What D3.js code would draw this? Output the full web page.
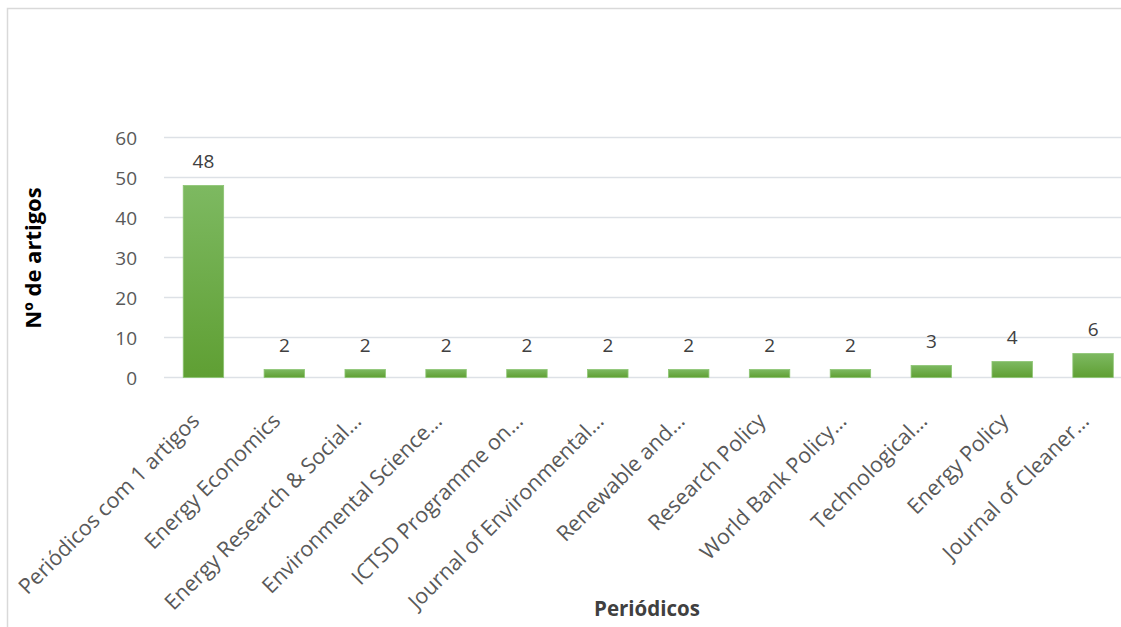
<!DOCTYPE html>
<html><head><meta charset="utf-8">
<script src="https://cdn.jsdelivr.net/npm/d3@7"></script>
<style>
html,body{margin:0;padding:0;background:#fff;}
svg{display:block;}
text{font-family:"Open Sans", Lato, sans-serif;}
</style></head>
<body>
<svg id="chart" width="1121" height="627"></svg>
<script>
const categories = ["Periódicos com 1 artigos","Energy Economics","Energy Research & Social…","Environmental Science…","ICTSD Programme on…","Journal of Environmental…","Renewable and…","Research Policy","World Bank Policy…","Technological…","Energy Policy","Journal of Cleaner…"];
const values = [48,2,2,2,2,2,2,2,2,3,4,6];
const yTicks = [0,10,20,30,40,50,60];
const yTitle = "Nº de artigos";
const xTitle = "Periódicos";

const FONT = "'Open Sans', Lato, sans-serif";
const svg = d3.select("#chart");
// outer frame
svg.append("rect").attr("x",7.5).attr("y",8.5).attr("width",1130).attr("height",640)
  .attr("fill","#fff").attr("stroke","#d9d9d9").attr("stroke-width",1.5);

const x = d3.scaleBand().domain(categories).range([163,1133.5]).paddingInner(0.5).paddingOuter(0.25);
const y = d3.scaleLinear().domain([0,60]).range([377.5,137.5]);

const defs = svg.append("defs");
const grad = defs.append("linearGradient").attr("id","g").attr("x1",0).attr("y1",0).attr("x2",0).attr("y2",1);
grad.append("stop").attr("offset","0%").attr("stop-color","#7db961");
grad.append("stop").attr("offset","100%").attr("stop-color","#5f9f33");

// gridlines
svg.append("g").selectAll("line").data(yTicks).join("line")
  .attr("x1",164).attr("x2",1121).attr("y1",d=>y(d)).attr("y2",d=>y(d))
  .attr("stroke","#dde1e6").attr("stroke-width",1.5);

// y axis labels
const yAxis = d3.axisLeft(y).tickValues(yTicks).tickSize(0).tickPadding(0);
const ga = svg.append("g").attr("transform","translate(137,0)").call(yAxis);
ga.select(".domain").remove();
ga.selectAll("text").attr("font-size",19).attr("fill","#595959").attr("dy","0.35em")
  .style("font-family",FONT);

// bars
svg.append("g").selectAll("rect").data(values).join("rect")
  .attr("x",(d,i)=>x(categories[i]))
  .attr("width",x.bandwidth())
  .attr("y",d=>y(d))
  .attr("height",d=>y(0)-y(d))
  .attr("fill","url(#g)")
  .attr("stroke","#8cc572").attr("stroke-width",0.8);

// value labels
svg.append("g").selectAll("text").data(values).join("text")
  .attr("x",(d,i)=>x(categories[i])+x.bandwidth()/2)
  .attr("y",d=>y(d)-18)
  .attr("text-anchor","middle")
  .attr("font-size",19).attr("fill","#404040")
  .text(d=>d);

// x labels
const xAxis = d3.axisBottom(x).tickSize(0).tickPadding(0);
const gx = svg.append("g").attr("transform","translate(0,377)").call(xAxis);
gx.select(".domain").remove();
gx.selectAll("text")
  .attr("font-size",21.5).attr("fill","#595959")
  .attr("text-anchor","end")
  .attr("transform","translate(-8,40) rotate(-45)")
  .attr("dy","0.35em").attr("y",0).attr("x",0)
  .style("font-family",FONT);

// axis titles
svg.append("text").attr("transform","translate(41,258) rotate(-90)")
  .attr("text-anchor","middle").attr("font-size",22).attr("font-weight","bold").attr("fill","#000")
  .text(yTitle);
svg.append("text").attr("x",647).attr("y",616)
  .attr("text-anchor","middle").attr("font-size",20.5).attr("font-weight","bold").attr("fill","#404040")
  .text(xTitle);
</script>
</body></html>
